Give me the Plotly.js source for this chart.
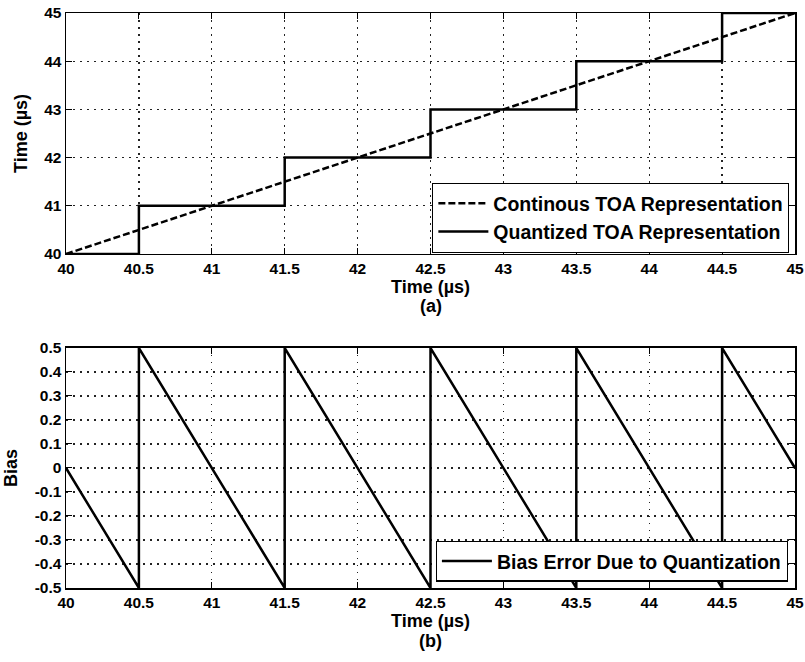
<!DOCTYPE html>
<html>
<head>
<meta charset="utf-8">
<script src="https://cdn.plot.ly/plotly-3.0.1.min.js"></script>
<style>html,body{margin:0;padding:0;background:#fff;}#chart{width:805px;height:662px;}</style>
</head>
<body>
<div id="chart"></div>
<script>
// ---- data ----
const contX = [40, 45];
const contY = [40, 45];
const quantX = [40, 40.5, 40.5, 41.5, 41.5, 42.5, 42.5, 43.5, 43.5, 44.5, 44.5, 45];
const quantY = [40, 40, 41, 41, 42, 42, 43, 43, 44, 44, 45, 45];
const biasX = [40, 40.5, 40.5, 41.5, 41.5, 42.5, 42.5, 43.5, 43.5, 44.5, 44.5, 45];
const biasY = [0, -0.5, 0.5, -0.5, 0.5, -0.5, 0.5, -0.5, 0.5, -0.5, 0.5, 0];
const xTicks = [40, 40.5, 41, 41.5, 42, 42.5, 43, 43.5, 44, 44.5, 45];
const xTickLabels = ['40', '40.5', '41', '41.5', '42', '42.5', '43', '43.5', '44', '44.5', '45'];
const timeTicks = [40, 41, 42, 43, 44, 45];
const timeTickLabels = ['40', '41', '42', '43', '44', '45'];
const biasTicks = [-0.5, -0.4, -0.3, -0.2, -0.1, 0, 0.1, 0.2, 0.3, 0.4, 0.5];
const biasTickLabels = ['-0.5', '-0.4', '-0.3', '-0.2', '-0.1', '0', '0.1', '0.2', '0.3', '0.4', '0.5'];
const seriesNames = ['Continous TOA Representation', 'Quantized TOA Representation', 'Bias Error Due to Quantization'];
const panelLabels = ['(a)', '(b)'];

const FONT = 'Liberation Sans, Arial, Helvetica, sans-serif';
const tickFont = {family: FONT, size: 15.5, color: '#000', weight: 'bold'};
const titleFont = {family: FONT, size: 18, color: '#000', weight: 'bold'};

const traces = [
  {x: contX, y: contY, type: 'scatter', mode: 'lines', name: seriesNames[0],
   line: {color: '#000', width: 2.5, dash: '7px,3px'}, xaxis: 'x', yaxis: 'y', legend: 'legend'},
  {x: quantX, y: quantY, type: 'scatter', mode: 'lines', name: seriesNames[1],
   line: {color: '#000', width: 2.5}, xaxis: 'x', yaxis: 'y', legend: 'legend', cliponaxis: false},
  {x: biasX, y: biasY, type: 'scatter', mode: 'lines', name: seriesNames[2],
   line: {color: '#000', width: 2.5}, xaxis: 'x2', yaxis: 'y2', legend: 'legend2', cliponaxis: false}
];

function axisBase() {
  return {
    ticks: 'inside', ticklen: 6, tickwidth: 1, tickcolor: '#000',
    showline: true, linecolor: '#000', linewidth: 1.5, mirror: 'ticks',
    showgrid: true, gridcolor: '#222', gridwidth: 1.3, griddash: '1.5px,5.5px',
    zeroline: false, tickfont: tickFont, fixedrange: true
  };
}

const legendBase = {
  bgcolor: '#fff', bordercolor: '#000', borderwidth: 1.2,
  font: {family: FONT, size: 19.5, color: '#000', weight: 'bold'},
  itemwidth: 50, tracegroupgap: 0, xanchor: 'right', yanchor: 'bottom'
};

const layout = {
  width: 805, height: 662,
  margin: {l: 66, r: 10, t: 13, b: 74},
  paper_bgcolor: '#fff', plot_bgcolor: '#fff',
  showlegend: true,
  xaxis: Object.assign(axisBase(), {domain: [0, 1], anchor: 'y', range: [40, 45],
    tickmode: 'array', tickvals: xTicks, ticktext: xTickLabels,
    title: {text: 'Time (µs)', font: titleFont, standoff: 0}}),
  yaxis: Object.assign(axisBase(), {domain: [0.5809, 1], anchor: 'x', range: [40, 45],
    tickmode: 'array', tickvals: timeTicks, ticktext: timeTickLabels,
    title: {text: 'Time (µs)', font: titleFont, standoff: 12}}),
  xaxis2: Object.assign(axisBase(), {domain: [0, 1], anchor: 'y2', range: [40, 45],
    tickmode: 'array', tickvals: xTicks, ticktext: xTickLabels,
    title: {text: 'Time (µs)', font: titleFont, standoff: 0}}),
  yaxis2: Object.assign(axisBase(), {domain: [0, 0.4174], anchor: 'x2', range: [-0.5, 0.5],
    tickmode: 'array', tickvals: biasTicks, ticktext: biasTickLabels,
    title: {text: 'Bias', font: titleFont, standoff: 12}}),
  legend: Object.assign({}, legendBase, {x: 0.992, y: 0.583}),
  legend2: Object.assign({}, legendBase, {x: 0.990, y: 0.011}),
  annotations: [
    {text: panelLabels[0], xref: 'paper', yref: 'paper', x: 0.5, y: 0.5809, yshift: -52,
     xanchor: 'center', yanchor: 'middle', showarrow: false, font: titleFont},
    {text: panelLabels[1], xref: 'paper', yref: 'paper', x: 0.5, y: 0, yshift: -53,
     xanchor: 'center', yanchor: 'middle', showarrow: false, font: titleFont}
  ]
};

Plotly.newPlot('chart', traces, layout, {displayModeBar: false, staticPlot: true});
</script>
</body>
</html>
